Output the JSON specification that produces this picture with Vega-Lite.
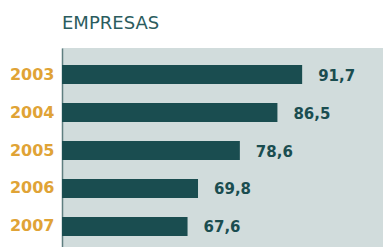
{
  "$schema": "https://vega.github.io/schema/vega-lite/v6.json",
  "width": 321,
  "height": 199,
  "autosize": {"type": "none"},
  "padding": {"left": 62, "top": 48, "right": 0, "bottom": 0},
  "title": {
    "text": "EMPRESAS",
    "anchor": "start",
    "frame": "group",
    "baseline": "alphabetic",
    "offset": 1,
    "font": "DejaVu Sans",
    "fontSize": 18,
    "fontWeight": "normal",
    "color": "#2b5c5e"
  },
  "data": {
    "values": [
      {"year": "2003", "value": 91.7},
      {"year": "2004", "value": 86.5},
      {"year": "2005", "value": 78.6},
      {"year": "2006", "value": 69.8},
      {"year": "2007", "value": 67.6}
    ]
  },
  "encoding": {
    "y": {
      "field": "year",
      "type": "nominal",
      "sort": null,
      "scale": {"range": [0, 205], "paddingInner": 0.5, "paddingOuter": 0.45},
      "axis": {
        "title": null,
        "ticks": false,
        "labelPadding": 8,
        "labelFont": "DejaVu Sans",
        "labelFontSize": 16,
        "labelFontWeight": "bold",
        "labelColor": "#e0a336",
        "domainColor": "#5f7f80",
        "domainWidth": 1.5,
        "grid": false
      }
    },
    "x": {
      "field": "value",
      "type": "quantitative",
      "scale": {"domain": [41.2, 108.7], "zero": false, "nice": false},
      "axis": null
    }
  },
  "layer": [
    {"mark": {"type": "bar", "color": "#1a4d50", "clip": true}},
    {
      "mark": {
        "type": "text",
        "align": "left",
        "baseline": "middle",
        "dx": 16,
        "dy": 1,
        "font": "DejaVu Sans",
        "fontSize": 15,
        "fontWeight": "bold",
        "color": "#1a4d50"
      },
      "encoding": {"text": {"field": "value", "type": "quantitative", "format": ".1f"}}
    }
  ],
  "config": {
    "view": {"fill": "#d1dcdc", "stroke": null},
    "background": "#ffffff",
    "locale": {"number": {"decimal": ",", "thousands": ".", "grouping": [3], "currency": ["", "€"]}}
  }
}
